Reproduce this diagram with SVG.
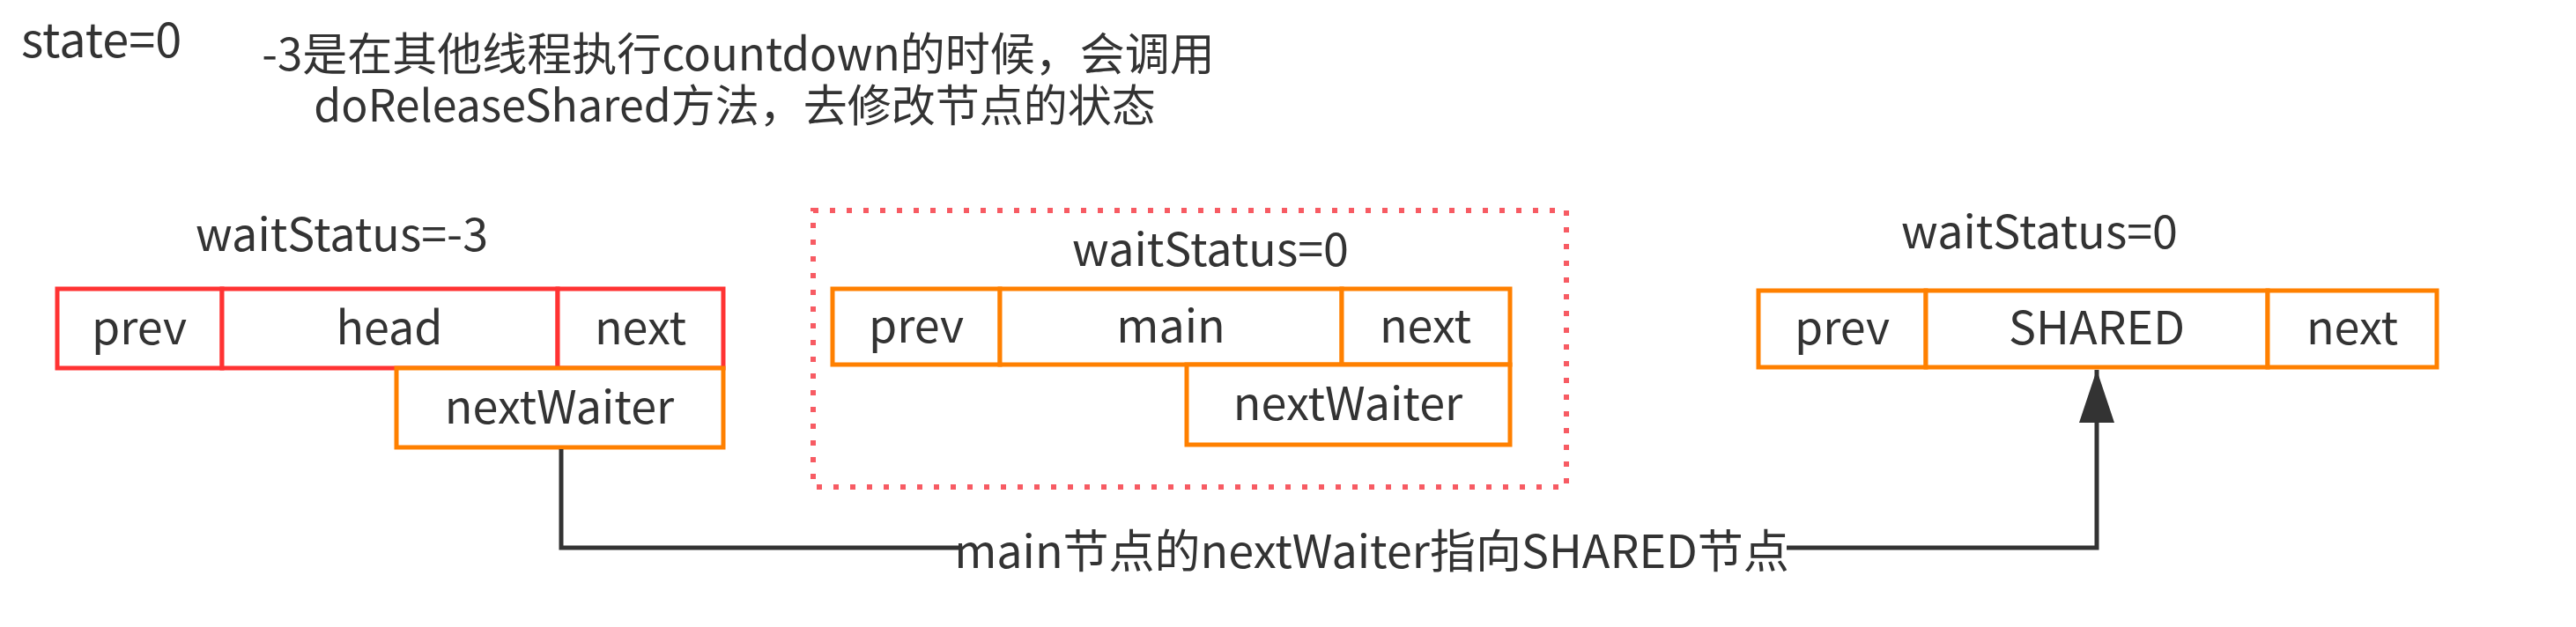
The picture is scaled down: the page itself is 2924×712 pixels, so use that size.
<svg xmlns="http://www.w3.org/2000/svg" width="2924" height="712" viewBox="0 0 2924 712">
<defs>
<style>
text{font-family:"Noto Sans CJK SC","Microsoft YaHei","Noto Sans",sans-serif;fill:#333333;font-size:52px}
.c{text-anchor:middle}
.red{fill:#ffffff;stroke:#FF3333;stroke-width:5}
.org{fill:#ffffff;stroke:#FF8000;stroke-width:5}
.edge{fill:none;stroke:#333333;stroke-width:5}
</style>
<marker id="arr" markerUnits="userSpaceOnUse" markerWidth="60" markerHeight="40" refX="60" refY="20" viewBox="0 0 60 40" orient="auto">
<path d="M0,0 L60,20 L0,40 Z" fill="#333333"/>
</marker>
</defs>
<rect width="2924" height="712" fill="#ffffff"/>
<g id="notes">
<text x="24" y="65" style="font-size:54px">state=0</text>
<text class="c" x="838" y="80" style="font-size:51px">-3是在其他线程执行countdown的时候，会调用</text>
<text class="c" x="834" y="138" style="font-size:50px">doReleaseShared方法，去修改节点的状态</text>
</g>
<g id="group-main">
<rect x="923" y="239" width="855" height="314" fill="none" stroke="#F75B63" stroke-width="6" stroke-dasharray="6 13"/>
</g>
<g id="node-head">
<text class="c" x="388" y="285">waitStatus=-3</text>
<rect class="red" x="65" y="328" width="187" height="90"/>
<rect class="red" x="252" y="328" width="381" height="90"/>
<rect class="red" x="633" y="328" width="188" height="90"/>
<rect class="org" x="450" y="418" width="371" height="90"/>
<text class="c" x="158" y="391">prev</text>
<text class="c" x="442" y="391">head</text>
<text class="c" x="727" y="391">next</text>
<text class="c" x="635" y="481">nextWaiter</text>
</g>
<g id="node-main">
<text class="c" x="1374" y="302">waitStatus=0</text>
<rect class="org" x="945" y="328" width="190" height="86"/>
<rect class="org" x="1135" y="328" width="388" height="86"/>
<rect class="org" x="1523" y="328" width="191" height="86"/>
<rect class="org" x="1347" y="414" width="367" height="91"/>
<text class="c" x="1040" y="389">prev</text>
<text class="c" x="1329" y="389">main</text>
<text class="c" x="1618" y="389">next</text>
<text class="c" x="1530" y="477">nextWaiter</text>
</g>
<g id="node-shared">
<text class="c" x="2315" y="282">waitStatus=0</text>
<rect class="org" x="1996" y="330" width="190" height="87"/>
<rect class="org" x="2186" y="330" width="388" height="87"/>
<rect class="org" x="2574" y="330" width="192" height="87"/>
<text class="c" x="2091" y="391">prev</text>
<text class="c" x="2380" y="391">SHARED</text>
<text class="c" x="2670" y="391">next</text>
</g>
<g id="connectors">
<path class="edge" d="M637,510 L637,622 L2380,622 L2380,420" marker-end="url(#arr)"/>
<rect x="1088" y="595" width="940" height="60" fill="#ffffff"/>
<text class="c" x="1557" y="645">main节点的nextWaiter指向SHARED节点</text>
</g>
</svg>
